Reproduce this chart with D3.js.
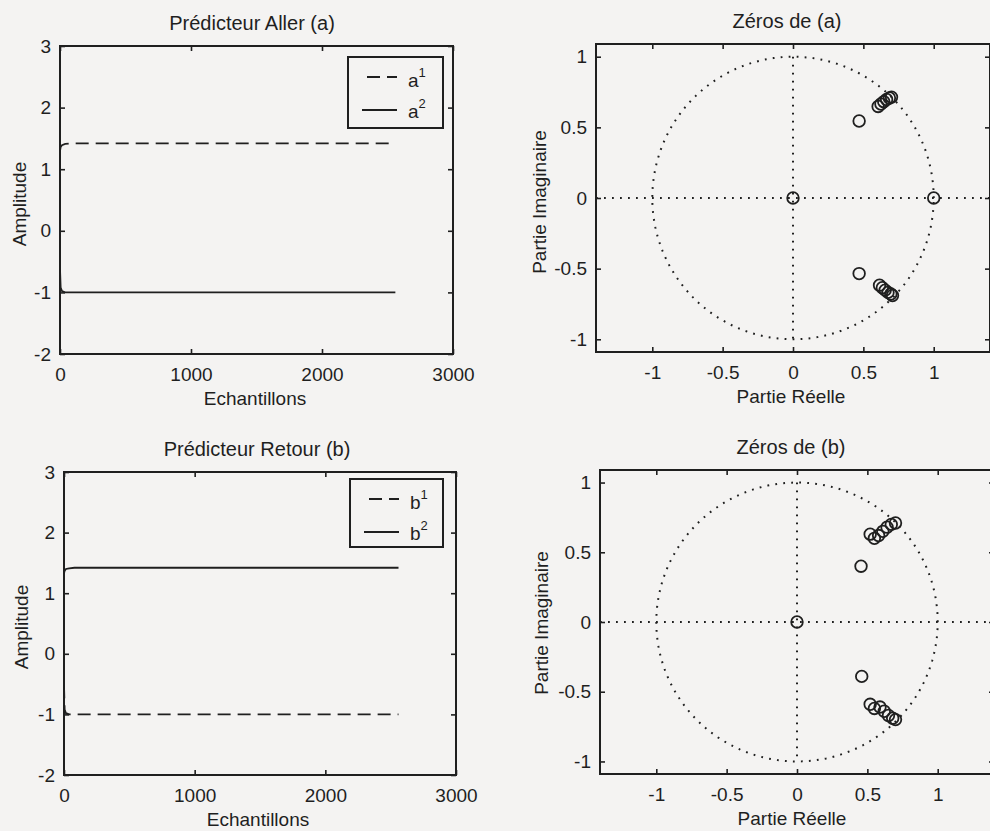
<!DOCTYPE html>
<html>
<head>
<meta charset="utf-8">
<script src="https://cdn.jsdelivr.net/npm/d3@7"></script>
<style>
  html, body { margin: 0; padding: 0; background: #f4f3f2; }
  svg { display: block; }
  text { font-family: "Liberation Sans", Arial, Helvetica, sans-serif; fill: #1f1f1f; }
</style>
</head>
<body>
<svg id="chart" width="990" height="831"></svg>
<script>
// ---------------- DATA ----------------
// Sample index (Echantillons) of each read-off point
const sampleIdx = [0, 5, 15, 40, 80, 2560];
// Prédicteur Aller (a)
const a1 = [1.30, 1.36, 1.39, 1.41, 1.42, 1.42];
const a2 = [-0.62, -0.92, -0.98, -1.00, -1.00, -1.00];
// Prédicteur Retour (b)
const b1 = [-0.52, -0.92, -0.98, -1.00, -1.00, -1.00];
const b2 = [1.33, 1.37, 1.40, 1.41, 1.42, 1.42];

// Zéros de (a)
const zerosA_re = [0, 1, 0.47, 0.47, 0.605, 0.625, 0.645, 0.665, 0.685, 0.70, 0.615, 0.635, 0.655, 0.675, 0.695, 0.707];
const zerosA_im = [0, 0, 0.545, -0.535, 0.648, 0.665, 0.682, 0.697, 0.708, 0.714, -0.617, -0.635, -0.652, -0.668, -0.680, -0.690];
// Zéros de (b)
const zerosB_re = [0, 0.455, 0.46, 0.52, 0.55, 0.58, 0.61, 0.64, 0.67, 0.70, 0.52, 0.55, 0.59, 0.62, 0.65, 0.68, 0.70];
const zerosB_im = [0, 0.40, -0.39, 0.63, 0.60, 0.62, 0.65, 0.68, 0.70, 0.71, -0.59, -0.62, -0.61, -0.64, -0.67, -0.69, -0.70];

// Tick values
const timeXTicks = [0, 1000, 2000, 3000];
const ampYTicks = [-2, -1, 0, 1, 2, 3];
const zTicks = [-1, -0.5, 0, 0.5, 1];

// Texts
const titles = ["Prédicteur Aller (a)", "Zéros de (a)", "Prédicteur Retour (b)", "Zéros de (b)"];

// ---------------- DRAWING ----------------
const INK = "#1f1f1f";
const svg = d3.select("#chart");
svg.append("rect").attr("width", 990).attr("height", 831).attr("fill", "#f4f3f2");

function styleAxis(g) {
  g.select(".domain").remove();
  g.selectAll("line").attr("stroke", INK).attr("stroke-width", 1.6);
  g.selectAll("text").attr("font-size", 19).attr("fill", INK)
    .attr("font-family", '"Liberation Sans", Arial, Helvetica, sans-serif');
  g.attr("font-family", null).attr("font-size", null);
}

function makeFrame(p) {
  const x = d3.scaleLinear().domain(p.xDomain).range([p.x0, p.x1]);
  const y = d3.scaleLinear().domain(p.yDomain).range([p.y1, p.y0]);
  const g = svg.append("g");
  const fmt = d => String(d);
  // bottom / left with labels, ticks inside
  g.append("g").attr("transform", `translate(0,${p.y1})`)
    .call(d3.axisBottom(x).tickValues(p.xTicks).tickSize(-5).tickPadding(13.5).tickFormat(fmt))
    .call(styleAxis);
  g.append("g").attr("transform", `translate(${p.x0},0)`)
    .call(d3.axisLeft(y).tickValues(p.yTicks).tickSize(-5).tickPadding(9).tickFormat(fmt))
    .call(styleAxis);
  // mirrored ticks (box on)
  g.append("g").attr("transform", `translate(0,${p.y0})`)
    .call(d3.axisTop(x).tickValues(p.xTicks).tickSize(-5).tickFormat(""))
    .call(styleAxis);
  g.append("g").attr("transform", `translate(${p.x1},0)`)
    .call(d3.axisRight(y).tickValues(p.yTicks).tickSize(-5).tickFormat(""))
    .call(styleAxis);
  // frame
  g.append("rect").attr("x", p.x0).attr("y", p.y0)
    .attr("width", p.x1 - p.x0).attr("height", p.y1 - p.y0)
    .attr("fill", "none").attr("stroke", INK).attr("stroke-width", 2);
  // title
  svg.append("text").attr("x", p.titleX).attr("y", p.y0 - 16)
    .attr("text-anchor", "middle").attr("font-size", 20).text(p.title);
  // x label
  svg.append("text").attr("x", p.xLabelX).attr("y", p.y1 + 51)
    .attr("text-anchor", "middle").attr("font-size", 19).text(p.xLabel);
  // y label
  svg.append("text")
    .attr("transform", `translate(${p.yLabelX},${p.yLabelY}) rotate(-90)`)
    .attr("text-anchor", "middle").attr("font-size", 19).text(p.yLabel);
  return { x, y, g };
}

function timePanel(p, sDashed, sSolid, letter, legendBox, dashedFirst) {
  const { x, y, g } = makeFrame(p);
  const line = vals => d3.line().x((d, i) => x(sampleIdx[i])).y(d => y(d))(vals);
  g.append("path").attr("d", line(sDashed)).attr("fill", "none")
    .attr("stroke", INK).attr("stroke-width", 1.8).attr("stroke-dasharray", "13 7");
  g.append("path").attr("d", line(sSolid)).attr("fill", "none")
    .attr("stroke", INK).attr("stroke-width", 1.8);
  // legend
  const L = legendBox;
  g.append("rect").attr("x", L.x).attr("y", L.y).attr("width", L.w).attr("height", L.h)
    .attr("fill", "#f4f3f2").attr("stroke", INK).attr("stroke-width", 2);
  const rows = [
    { dash: "13 7", x0: L.x + 19, sup: "1", ly: L.y + 20, ty: L.y + 30 },
    { dash: null, x0: L.x + 14, sup: "2", ly: L.y + 53, ty: L.y + 61 }
  ];
  rows.forEach(r => {
    const ln = g.append("line").attr("x1", r.x0).attr("x2", L.x + 49)
      .attr("y1", r.ly).attr("y2", r.ly).attr("stroke", INK).attr("stroke-width", 1.8);
    if (r.dash) ln.attr("stroke-dasharray", r.dash);
    const t = g.append("text").attr("x", L.x + 60).attr("y", r.ty).attr("font-size", 19);
    t.append("tspan").text(letter);
    t.append("tspan").attr("dy", -10).attr("dx", 0).attr("font-size", 13).text(r.sup);
  });
}

function zPanel(p, re, im) {
  const { x, y, g } = makeFrame(p);
  const dot = { stroke: INK, "stroke-width": 2, "stroke-dasharray": "1.8 6.2", fill: "none" };
  // unit circle
  const circ = d3.range(0, 361, 2).map(a => [Math.cos(a * Math.PI / 180), Math.sin(a * Math.PI / 180)]);
  const cp = g.append("path").attr("d", d3.line().x(d => x(d[0])).y(d => y(d[1]))(circ));
  const hl = g.append("line").attr("x1", x(p.xDomain[0])).attr("x2", x(p.xDomain[1])).attr("y1", y(0)).attr("y2", y(0));
  const vl = g.append("line").attr("x1", x(0)).attr("x2", x(0)).attr("y1", y(1)).attr("y2", y(-1));
  [cp, hl, vl].forEach(s => Object.entries(dot).forEach(([k, v]) => s.attr(k, v)));
  // zeros
  g.selectAll("circle.z").data(re.map((r, i) => [r, im[i]])).join("circle")
    .attr("class", "z")
    .attr("cx", d => x(d[0])).attr("cy", d => y(d[1])).attr("r", 5.8)
    .attr("fill", "none").attr("stroke", INK).attr("stroke-width", 1.8);
}

timePanel({
  x0: 60, x1: 453, y0: 46, y1: 354, xDomain: [0, 3000], yDomain: [-2, 3],
  xTicks: timeXTicks, yTicks: ampYTicks, title: titles[0], titleX: 252,
  xLabel: "Echantillons", xLabelX: 255, yLabel: "Amplitude", yLabelX: 26, yLabelY: 204
}, a1, a2, "a", { x: 348, y: 57, w: 95, h: 71 });

zPanel({
  x0: 596, x1: 990, y0: 44, y1: 352, xDomain: [-1.4, 1.4], yDomain: [-1.09, 1.09],
  xTicks: zTicks, yTicks: zTicks, title: titles[1], titleX: 787,
  xLabel: "Partie Réelle", xLabelX: 791, yLabel: "Partie Imaginaire", yLabelX: 546, yLabelY: 202
}, zerosA_re, zerosA_im);

timePanel({
  x0: 64, x1: 456, y0: 472, y1: 775, xDomain: [0, 3000], yDomain: [-2, 3],
  xTicks: timeXTicks, yTicks: ampYTicks, title: titles[2], titleX: 257,
  xLabel: "Echantillons", xLabelX: 258, yLabel: "Amplitude", yLabelX: 28, yLabelY: 627
}, b1, b2, "b", { x: 350, y: 479, w: 93, h: 68 });

zPanel({
  x0: 600, x1: 994, y0: 470, y1: 774, xDomain: [-1.4, 1.4], yDomain: [-1.09, 1.09],
  xTicks: zTicks, yTicks: zTicks, title: titles[3], titleX: 791,
  xLabel: "Partie Réelle", xLabelX: 792, yLabel: "Partie Imaginaire", yLabelX: 548, yLabelY: 623
}, zerosB_re, zerosB_im);
</script>
</body>
</html>
